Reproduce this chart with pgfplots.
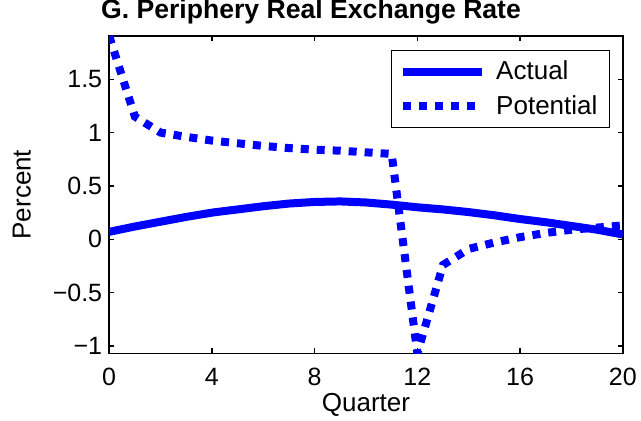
\documentclass[border=0pt]{standalone}
\usepackage{fontspec}
\setmainfont{Liberation Sans}
\usepackage{pgfplots}
\pgfplotsset{compat=1.18}
\definecolor{mblue}{RGB}{0,0,255}
\begin{document}
\begin{tikzpicture}[font=\fontsize{13}{15.6}\selectfont]
\useasboundingbox (-54.6pt,-33.85pt) rectangle (265.9pt,176.65pt);
\begin{axis}[
  at={(0,0)}, anchor=south west,
  scale only axis, width=256.8pt, height=158.65pt,
  xmin=0, xmax=20, ymin=-1.068, ymax=1.905,
  xtick={0,4,...,20},
  ytick={-1,-0.5,0,0.5,1,1.5},
  yticklabels={−1,−0.5,0,0.5,1,1.5},
  /pgf/number format/assume math mode=true,
  tick label style={font=\fontsize{12.5}{15}\selectfont},
  xticklabel style={anchor=base, yshift=-16.3pt},
  axis line style={line width=0.75pt},
  major tick length=2.4pt,
  every tick/.style={black, line width=0.6pt},
  xlabel={Quarter}, ylabel={Percent},
  xlabel style={at={(axis description cs:0.5,-0.185)}, anchor=base},
  ylabel style={at={(axis description cs:-0.170,0.5)}, anchor=center},
  title={G. Periphery Real Exchange Rate},
  title style={at={(rel axis cs:0,1)}, anchor=base west, xshift=-7.6pt, yshift=2.65pt, font=\bfseries\fontsize{13.3}{16}\selectfont},
  legend cell align=left,
  legend style={at={(1,1)}, anchor=north east, xshift=-6.4pt, yshift=-7pt,
    draw=black, line width=0.6pt, fill=white, inner xsep=4pt, inner ysep=3pt,
    nodes={inner sep=2pt}, row sep=2.5pt,
    /tikz/every odd column/.append style={column sep=3pt}},
  legend image code/.code={\draw[#1] (0pt,0pt) -- (39.5pt,0pt);},
]
\addplot[mblue, line width=4pt] coordinates {
(0,0.07) (1,0.12) (2,0.165) (3,0.21) (4,0.25) (5,0.28) (6,0.31) (7,0.335)
(8,0.35) (9,0.355) (10,0.345) (11,0.325) (12,0.30) (13,0.28) (14,0.255)
(15,0.225) (16,0.19) (17,0.16) (18,0.125) (19,0.09) (20,0.045)};
\addplot[mblue, line width=4pt, dash pattern=on 4pt off 4pt] coordinates {
(0,1.905) (1,1.15) (2,1.0) (3,0.96) (4,0.925) (5,0.90) (6,0.875) (7,0.855)
(8,0.84) (9,0.83) (10,0.815) (11,0.80) (12,-1.07) (13,-0.24) (14,-0.09)
(15,-0.03) (16,0.02) (17,0.06) (18,0.09) (19,0.11) (20,0.13)};
\legend{Actual, Potential}
\end{axis}
\end{tikzpicture}
\end{document}
